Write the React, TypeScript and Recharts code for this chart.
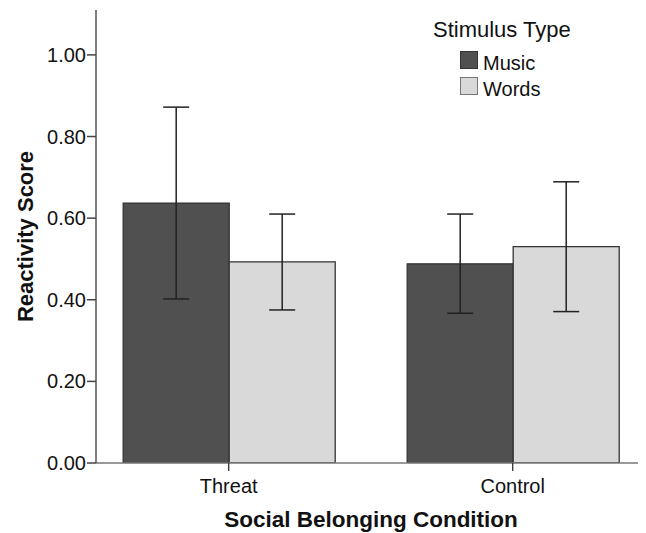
import React from "react";
import {
  BarChart,
  Bar,
  XAxis,
  YAxis,
  ErrorBar,
  Legend,
} from "recharts";

const FONT = '"Liberation Sans", Arial, sans-serif';

const categories = ["Threat", "Control"];
const musicMeans = [0.637, 0.488];
const musicLow = [0.402, 0.367];
const musicHigh = [0.872, 0.61];
const wordsMeans = [0.493, 0.53];
const wordsLow = [0.375, 0.371];
const wordsHigh = [0.61, 0.689];
const yTicks = [0, 0.2, 0.4, 0.6, 0.8, 1.0];

const MUSIC_FILL = "#505050";
const WORDS_FILL = "#d9d9d9";

const data = categories.map((name, i) => ({
  name,
  music: musicMeans[i],
  musicErr: [musicMeans[i] - musicLow[i], musicHigh[i] - musicMeans[i]],
  words: wordsMeans[i],
  wordsErr: [wordsMeans[i] - wordsLow[i], wordsHigh[i] - wordsMeans[i]],
}));

const renderLegend = (props: any) => {
  const { payload } = props;
  return (
    <div style={{ position: "relative", width: 170, height: 92, fontFamily: FONT, color: "#111" }}>
      <div style={{ position: "absolute", left: 0, top: 0, fontSize: 22, lineHeight: "22px", whiteSpace: "nowrap" }}>
        Stimulus Type
      </div>
      {(payload || []).map((entry: any, i: number) => (
        <div key={entry.value}>
          <div
            style={{
              position: "absolute",
              left: 27,
              top: 32 + i * 26,
              width: 16,
              height: 16,
              background: entry.color,
              border: `1.5px solid ${i === 0 ? "#333" : "#777"}`,
            }}
          />
          <div
            style={{
              position: "absolute",
              left: 50,
              top: 34 + i * 26,
              fontSize: 20,
              lineHeight: "20px",
              whiteSpace: "nowrap",
            }}
          >
            {entry.value}
          </div>
        </div>
      ))}
    </div>
  );
};

export default function App() {
  return (
    <div style={{ width: 638, height: 525 }}>
      <BarChart
        width={638}
        height={525}
        data={data}
        margin={{ top: 2, right: 0, bottom: 0, left: 0 }}
        barCategoryGap={36.5}
        barGap={0}
      >
        <XAxis
          dataKey="name"
          height={70}
          padding={{ left: -9.3, right: -8.7 }}
          stroke="#666"
          tickSize={8}
          tickMargin={8}
          tick={{ fill: "#111", fontSize: 20, fontFamily: FONT }}
          tickLine={{ stroke: "#333", strokeWidth: 1.3 }}
          axisLine={{ stroke: "#777", strokeWidth: 1.5 }}
          label={{
            value: "Social Belonging Condition",
            position: "insideBottom",
            offset: 6,
            style: { fill: "#111", fontSize: 22.5, fontWeight: "bold", fontFamily: FONT },
          }}
        />
        <YAxis
          width={88}
          domain={[0, 1.11]}
          ticks={yTicks}
          allowDataOverflow
          tickFormatter={(v: number) => v.toFixed(2)}
          tickSize={9}
          tickMargin={1}
          tick={{ fill: "#111", fontSize: 20, fontFamily: FONT }}
          tickLine={{ stroke: "#444", strokeWidth: 1.5 }}
          axisLine={{ stroke: "#555", strokeWidth: 1.5 }}
          label={{
            value: "Reactivity Score",
            angle: -90,
            position: "insideLeft",
            offset: 17,
            style: { textAnchor: "middle", fill: "#111", fontSize: 22, fontWeight: "bold", fontFamily: FONT },
          }}
        />
        <Legend
          layout="vertical"
          align="center"
          verticalAlign="middle"
          content={renderLegend}
          wrapperStyle={{ left: 425, top: 11, width: 170, height: 92 }}
        />
        <Bar dataKey="music" name="Music" fill={MUSIC_FILL} stroke="#333" strokeWidth={1.3} isAnimationActive={false}>
          <ErrorBar dataKey="musicErr" width={13} stroke="#222" strokeWidth={1.5} isAnimationActive={false} />
        </Bar>
        <Bar dataKey="words" name="Words" fill={WORDS_FILL} stroke="#333" strokeWidth={1.3} isAnimationActive={false}>
          <ErrorBar dataKey="wordsErr" width={13} stroke="#222" strokeWidth={1.5} isAnimationActive={false} />
        </Bar>
      </BarChart>
    </div>
  );
}
